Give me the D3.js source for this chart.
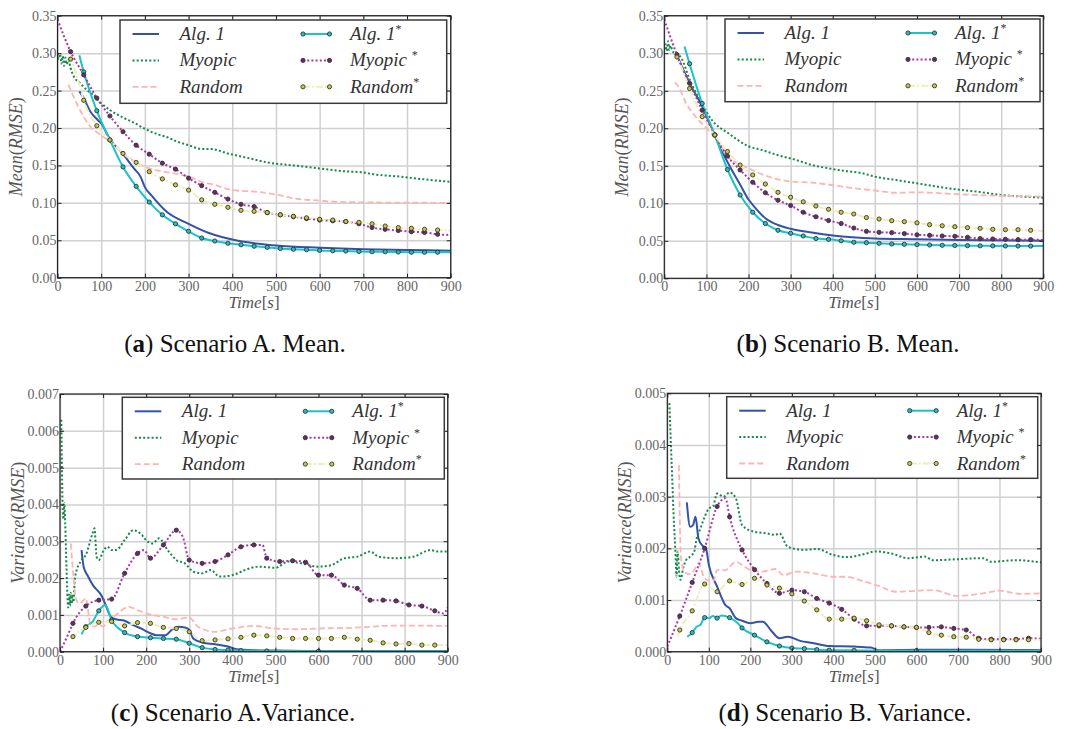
<!DOCTYPE html>
<html>
<head>
<meta charset="utf-8">
<script src="https://cdn.jsdelivr.net/npm/d3@7"></script>
<style>
  body { margin: 0; background: #fff; }
</style>
</head>
<body>
<div id="chart"></div>
<script>
//Time axis ticks (seconds) shared by all panels
const timeTicks = [0, 100, 200, 300, 400, 500, 600, 700, 800, 900];

//Scenario A, mean RMSE  ([time, value])
const meanA_alg1 = [[50,0.249],[60,0.240],[75,0.222],[90,0.212],[100,0.206],[120,0.185],[150,0.165],[175,0.146],[190,0.135],[200,0.121],[215,0.110],[250,0.088],[300,0.072],[350,0.059],[400,0.051],[450,0.046],[500,0.043],[600,0.040],[700,0.038],[800,0.037],[900,0.036]];
const meanA_myopic = [[0,0.300],[3,0.292],[6,0.299],[9,0.286],[12,0.296],[15,0.283],[18,0.294],[21,0.285],[25,0.291],[30,0.280],[40,0.266],[48,0.262],[65,0.252],[80,0.245],[98,0.234],[120,0.224],[150,0.214],[175,0.207],[200,0.199],[227,0.192],[250,0.188],[273,0.182],[300,0.177],[330,0.172],[350,0.172],[390,0.166],[420,0.162],[450,0.158],[480,0.154],[540,0.150],[600,0.146],[660,0.142],[695,0.141],[725,0.138],[785,0.135],[830,0.132],[900,0.128]];
const meanA_random = [[25,0.258],[48,0.228],[75,0.202],[98,0.191],[120,0.182],[150,0.166],[180,0.154],[210,0.146],[240,0.142],[270,0.139],[300,0.135],[330,0.128],[360,0.124],[400,0.117],[450,0.115],[480,0.113],[510,0.110],[540,0.106],[600,0.103],[630,0.1015],[710,0.1006],[900,0.100]];
const meanA_alg1s = [[50,0.297],[60,0.275],[90,0.223],[120,0.184],[150,0.148],[180,0.122],[210,0.101],[240,0.084],[270,0.072],[300,0.062],[330,0.053],[360,0.049],[390,0.046],[420,0.044],[450,0.042],[480,0.0405],[510,0.039],[540,0.038],[570,0.0374],[600,0.0365],[630,0.036],[660,0.0356],[690,0.035],[720,0.0347],[750,0.0347],[780,0.0343],[810,0.034],[840,0.034],[870,0.034],[900,0.034]];
const meanA_myopics = [[0,0.345],[30,0.302],[60,0.271],[90,0.240],[120,0.216],[150,0.195],[180,0.177],[210,0.165],[240,0.153],[270,0.145],[300,0.133],[330,0.123],[360,0.114],[390,0.105],[420,0.098],[450,0.095],[480,0.087],[510,0.084],[540,0.0815],[570,0.079],[600,0.077],[630,0.076],[660,0.075],[690,0.072],[720,0.067],[750,0.0646],[780,0.063],[810,0.0615],[840,0.0605],[870,0.058],[900,0.057]];
const meanA_randoms = [[25,0.296],[30,0.292],[48,0.262],[60,0.237],[90,0.203],[120,0.184],[150,0.166],[180,0.154],[210,0.1416],[240,0.132],[270,0.124],[300,0.117],[330,0.104],[360,0.098],[390,0.094],[420,0.090],[450,0.0886],[480,0.087],[510,0.084],[540,0.082],[570,0.080],[600,0.078],[630,0.077],[660,0.075],[690,0.074],[720,0.072],[750,0.069],[780,0.067],[810,0.066],[840,0.0646],[870,0.0637],[900,0.063]];

//Scenario B, mean RMSE
const meanB_alg1 = [[30,0.297],[60,0.260],[90,0.229],[120,0.190],[150,0.155],[180,0.125],[200,0.105],[210,0.098],[240,0.080],[270,0.071],[300,0.066],[350,0.061],[400,0.057],[500,0.053],[600,0.052],[700,0.051],[900,0.050]];
const meanB_myopic = [[0,0.305],[3,0.312],[6,0.303],[9,0.316],[12,0.304],[15,0.310],[20,0.302],[30,0.300],[42,0.292],[60,0.265],[90,0.232],[100,0.222],[113,0.211],[153,0.193],[200,0.176],[232,0.171],[270,0.164],[311,0.158],[350,0.151],[390,0.1466],[430,0.143],[470,0.140],[500,0.1355],[550,0.131],[600,0.1266],[650,0.122],[700,0.118],[750,0.115],[800,0.111],[850,0.109],[900,0.1075]];
const meanB_random = [[25,0.261],[35,0.254],[50,0.235],[75,0.215],[100,0.200],[125,0.184],[150,0.162],[175,0.153],[200,0.1466],[250,0.135],[300,0.129],[350,0.1275],[400,0.124],[450,0.120],[500,0.117],[550,0.114],[600,0.1146],[700,0.112],[800,0.110],[900,0.109]];
const meanB_alg1s = [[48,0.309],[60,0.286],[90,0.233],[120,0.191],[150,0.145],[180,0.111],[210,0.088],[240,0.073],[270,0.064],[300,0.060],[330,0.0564],[360,0.053],[390,0.052],[420,0.050],[450,0.048],[480,0.0475],[510,0.0466],[540,0.0457],[570,0.0453],[600,0.0449],[630,0.0444],[660,0.044],[690,0.0437],[720,0.0435],[750,0.0433],[780,0.0432],[810,0.0431],[840,0.043],[870,0.043],[900,0.043]];
const meanB_myopics = [[0,0.345],[30,0.298],[60,0.260],[90,0.224],[120,0.191],[150,0.163],[180,0.1444],[210,0.128],[240,0.114],[270,0.104],[300,0.097],[330,0.088],[360,0.082],[390,0.077],[420,0.073],[450,0.067],[480,0.0626],[510,0.0613],[540,0.0608],[570,0.0595],[600,0.058],[630,0.0573],[660,0.0564],[690,0.056],[720,0.0546],[750,0.053],[780,0.0524],[810,0.052],[840,0.0515],[870,0.0515],[900,0.051]];
const meanB_randoms = [[25,0.300],[30,0.295],[60,0.253],[90,0.2154],[120,0.191],[150,0.169],[180,0.151],[210,0.1377],[240,0.1257],[270,0.1146],[300,0.108],[330,0.102],[360,0.0964],[390,0.092],[420,0.088],[450,0.0857],[480,0.081],[510,0.079],[540,0.0768],[570,0.0755],[600,0.074],[630,0.0715],[660,0.070],[690,0.0688],[720,0.0675],[750,0.0666],[780,0.0653],[810,0.0648],[840,0.0648],[870,0.064],[900,0.063]];

//Scenario A, variance of RMSE (units of 1e-3)
const varA_alg1 = [[50,2.76],[55,2.30],[65,2.05],[78,1.78],[88,1.65],[95,1.55],[105,1.30],[118,0.95],[130,0.88],[150,0.84],[170,0.72],[190,0.62],[210,0.50],[225,0.45],[245,0.45],[260,0.60],[275,0.68],[290,0.66],[300,0.60],[310,0.35],[330,0.25],[360,0.20],[390,0.14],[410,0.07],[450,0.04],[500,0.03],[600,0.02],[900,0.02]];
const varA_myopic = [[3,6.30],[6,4.00],[8,3.60],[10,4.03],[12,3.50],[15,2.30],[17,1.60],[19,1.20],[21,1.55],[23,1.25],[25,1.60],[27,1.30],[29,1.55],[31,1.35],[35,2.04],[50,2.49],[60,2.63],[75,3.20],[80,3.35],[85,2.58],[90,2.49],[100,2.72],[110,2.85],[120,2.76],[130,2.76],[150,3.03],[170,3.30],[190,3.17],[200,3.03],[215,2.94],[230,3.08],[250,2.76],[270,2.49],[290,2.40],[310,2.17],[330,2.13],[350,2.22],[370,2.04],[400,2.08],[430,2.22],[460,2.31],[500,2.28],[530,2.45],[560,2.40],[600,2.31],[630,2.35],[660,2.54],[690,2.58],[720,2.72],[740,2.58],[780,2.54],[820,2.58],[860,2.76],[880,2.72],[900,2.72]];
const varA_random = [[25,2.94],[30,2.22],[38,1.40],[45,1.31],[55,1.40],[60,1.45],[70,0.77],[80,0.68],[90,0.75],[100,0.68],[110,0.82],[130,1.00],[160,1.22],[180,1.13],[200,1.04],[240,0.95],[270,0.88],[300,0.93],[320,0.68],[360,0.54],[400,0.63],[450,0.70],[500,0.63],[550,0.61],[600,0.63],[700,0.66],[750,0.70],[800,0.71],[900,0.70]];
const varA_alg1s = [[50,0.47],[60,0.68],[75,0.80],[90,1.11],[105,1.27],[120,0.86],[150,0.52],[180,0.41],[210,0.38],[240,0.36],[270,0.34],[300,0.23],[330,0.11],[360,0.06],[390,0.045],[420,0.03],[480,0.02],[600,0.015],[900,0.01]];
const varA_myopics = [[0,0.00],[20,0.50],[30,0.77],[60,1.24],[90,1.40],[120,1.43],[150,2.13],[180,2.67],[195,2.76],[210,2.54],[240,2.90],[270,3.30],[285,3.12],[300,2.49],[330,2.40],[360,2.45],[390,2.63],[420,2.85],[450,2.90],[470,2.90],[480,2.54],[510,2.45],[540,2.47],[570,2.43],[600,2.08],[630,2.08],[660,1.81],[690,1.72],[720,1.40],[750,1.40],[780,1.38],[810,1.27],[840,1.24],[870,1.11],[890,1.04],[900,1.20]];
const varA_randoms = [[25,0.35],[30,0.41],[60,0.66],[90,0.80],[120,0.82],[150,0.70],[180,0.79],[210,0.77],[240,0.66],[270,0.63],[300,0.54],[330,0.30],[360,0.32],[390,0.35],[420,0.39],[450,0.45],[480,0.43],[510,0.39],[540,0.36],[570,0.36],[600,0.36],[630,0.36],[660,0.39],[690,0.34],[720,0.31],[750,0.24],[780,0.21],[810,0.22],[840,0.18],[870,0.18],[900,0.18]];

//Scenario B, variance of RMSE (units of 1e-3)
const varB_alg1 = [[47,2.89],[55,2.42],[62,2.45],[68,2.61],[75,2.19],[85,2.05],[93,2.00],[100,1.68],[120,1.26],[140,0.90],[150,0.84],[165,0.65],[180,0.60],[200,0.55],[220,0.58],[230,0.58],[250,0.41],[270,0.26],[290,0.29],[320,0.21],[350,0.17],[390,0.11],[450,0.10],[490,0.08],[510,0.03],[600,0.04],[900,0.03]];
const varB_myopic = [[5,4.81],[8,4.16],[12,3.32],[15,2.68],[20,1.84],[22,1.45],[25,1.94],[28,1.58],[32,1.39],[38,1.61],[45,1.77],[55,1.84],[65,1.94],[70,2.16],[80,2.39],[90,2.61],[100,2.77],[110,2.81],[120,3.06],[135,3.00],[150,3.08],[165,2.97],[180,2.45],[210,2.32],[240,2.29],[260,2.26],[270,2.29],[290,2.03],[330,1.97],[360,1.99],[400,1.87],[430,1.83],[480,1.90],[500,1.94],[540,1.90],[580,1.81],[620,1.84],[640,1.77],[700,1.79],[760,1.81],[780,1.74],[840,1.77],[900,1.73]];
const varB_random = [[28,3.61],[32,1.97],[36,1.65],[45,1.52],[55,1.50],[70,1.65],[75,1.71],[90,1.42],[110,1.35],[120,1.58],[140,1.58],[165,1.74],[185,1.65],[200,1.58],[230,1.55],[260,1.60],[280,1.48],[310,1.55],[350,1.52],[400,1.45],[430,1.45],[470,1.37],[510,1.27],[550,1.16],[600,1.18],[640,1.19],[700,1.08],[760,1.13],[800,1.18],[850,1.12],[900,1.13]];
const varB_alg1s = [[48,0.29],[60,0.37],[70,0.48],[80,0.52],[90,0.66],[100,0.65],[110,0.69],[120,0.65],[130,0.70],[150,0.66],[170,0.55],[180,0.46],[210,0.32],[240,0.19],[270,0.11],[300,0.07],[330,0.06],[360,0.04],[390,0.03],[450,0.025],[600,0.02],[900,0.02]];
const varB_myopics = [[0,0.10],[30,0.69],[60,1.34],[90,2.00],[120,2.81],[140,2.97],[150,2.61],[180,1.97],[210,1.59],[240,1.32],[270,1.13],[300,1.19],[330,1.16],[360,1.03],[390,0.94],[420,0.82],[450,0.63],[480,0.50],[510,0.50],[540,0.50],[570,0.48],[600,0.47],[630,0.47],[660,0.48],[690,0.45],[720,0.42],[750,0.26],[780,0.24],[810,0.24],[840,0.24],[870,0.26],[900,0.25]];
const varB_randoms = [[25,0.30],[30,0.42],[60,0.79],[85,1.28],[90,1.31],[120,1.16],[150,1.37],[180,1.30],[210,1.42],[240,1.29],[270,1.23],[300,1.12],[330,0.98],[360,0.81],[390,0.63],[420,0.63],[450,0.65],[480,0.60],[510,0.52],[540,0.50],[570,0.48],[600,0.47],[630,0.37],[660,0.32],[690,0.29],[720,0.28],[750,0.24],[780,0.23],[810,0.23],[840,0.23],[870,0.23],[900,0.23]];

//Legend labels: [main text, superscript]
const seriesNames = [['Alg. 1', ''], ['Myopic', ''], ['Random', ''], ['Alg. 1', '*'], ['Myopic ', '*'], ['Random', '*']];

//Styles, one per series, same order as the names
const styles = [
  {color: '#3453a8', dash: null, width: 2, marker: false},
  {color: '#16884a', dash: '2,2.2', width: 2, marker: false},
  {color: '#ffb4b4', dash: '6,3', width: 1.8, marker: false},
  {color: '#1cc2c6', dash: null, width: 2, marker: true, mfill: '#1cc2c6'},
  {color: '#a53aa5', dash: '2,2.2', width: 2, marker: true, mfill: '#6a2a6a'},
  {color: '#eeeebb', dash: '7,2,2,2', width: 2, marker: true, mfill: '#c8c840'}
];

const SERIF = "'Liberation Serif', 'Times New Roman', serif";

const panels = [
  {box: {l: 57.5, r: 450.7, t: 15.7, b: 277.7}, yMax: 0.35, yTicks: d3.range(0, 0.351, 0.05), fmt: d => d.toFixed(2),
   ylabel: ['Mean', 'RMSE'], series: [meanA_alg1, meanA_myopic, meanA_random, meanA_alg1s, meanA_myopics, meanA_randoms],
   legend: {l: 120, t: 20, r: 446.7, b: 103.3}, caption: ['a', 'Scenario A. Mean.'], capPos: [235, 352]},
  {box: {l: 664.3, r: 1043.3, t: 15.7, b: 278.3}, yMax: 0.35, yTicks: d3.range(0, 0.351, 0.05), fmt: d => d.toFixed(2),
   ylabel: ['Mean', 'RMSE'], series: [meanB_alg1, meanB_myopic, meanB_random, meanB_alg1s, meanB_myopics, meanB_randoms],
   legend: {l: 725, t: 19, r: 1040, b: 101.7}, caption: ['b', 'Scenario B. Mean.'], capPos: [848, 352]},
  {box: {l: 60, r: 447.7, t: 394, b: 651.7}, yMax: 7, yTicks: d3.range(0, 7.01, 1), fmt: d => (d / 1000).toFixed(3),
   ylabel: ['Variance', 'RMSE'], series: [varA_alg1, varA_myopic, varA_random, varA_alg1s, varA_myopics, varA_randoms],
   legend: {l: 122.3, t: 397.3, r: 444.3, b: 479}, caption: ['c', 'Scenario A.Variance.'], capPos: [233, 721]},
  {box: {l: 667.3, r: 1041, t: 393.3, b: 651.7}, yMax: 5, yTicks: d3.range(0, 5.01, 1), fmt: d => (d / 1000).toFixed(3),
   ylabel: ['Variance', 'RMSE'], series: [varB_alg1, varB_myopic, varB_random, varB_alg1s, varB_myopics, varB_randoms],
   legend: {l: 726.7, t: 396.7, r: 1037.7, b: 478.3}, caption: ['d', 'Scenario B. Variance.'], capPos: [845, 721]}
];

//SVG
const svg = d3.select('#chart').append('svg')
  .attr('width', 1073)
  .attr('height', 729)
  .style('background', '#fff');

panels.forEach((p, pi) => {
  const b = p.box;
  const x = d3.scaleLinear().domain([0, 900]).range([b.l, b.r]);
  const y = d3.scaleLinear().domain([0, p.yMax]).range([b.b, b.t]);
  const g = svg.append('g');
  const clipId = 'clip' + pi;

  g.append('clipPath').attr('id', clipId)
    .append('rect').attr('x', b.l).attr('y', b.t).attr('width', b.r - b.l).attr('height', b.b - b.t);

  //Grid lines
  g.append('g')
    .attr('transform', `translate(0, ${b.b})`)
    .call(d3.axisBottom(x).tickValues(timeTicks).tickSize(-(b.b - b.t)).tickFormat(''))
    .call(s => s.select('.domain').remove())
    .call(s => s.selectAll('line').attr('stroke', '#d0d0d0').attr('stroke-width', 1.5));
  g.append('g')
    .attr('transform', `translate(${b.l}, 0)`)
    .call(d3.axisLeft(y).tickValues(p.yTicks).tickSize(-(b.r - b.l)).tickFormat(''))
    .call(s => s.select('.domain').remove())
    .call(s => s.selectAll('line').attr('stroke', '#d0d0d0').attr('stroke-width', 1.5));

  //Lines
  const line = d3.line()
    .x(d => x(d[0]))
    .y(d => y(d[1]))
    .curve(d3.curveMonotoneX);

  const lines = g.append('g').attr('clip-path', `url(#${clipId})`);
  p.series.forEach((data, i) => {
    const st = styles[i];
    lines.append('path')
      .attr('d', line(data))
      .attr('fill', 'none')
      .attr('stroke', st.color)
      .attr('stroke-width', st.width)
      .attr('stroke-dasharray', st.dash);
  });
  p.series.forEach((data, i) => {
    const st = styles[i];
    if (!st.marker) return;
    lines.selectAll(null)
      .data(data.filter(d => d[0] >= 30 && d[0] < 900 && d[0] % 30 === 0))
      .enter()
      .append('circle')
      .attr('cx', d => x(d[0]))
      .attr('cy', d => y(d[1]))
      .attr('r', 2.1)
      .attr('fill', st.mfill)
      .attr('stroke', '#333')
      .attr('stroke-width', 0.9);
  });

  //Frame and small inward ticks
  g.append('rect')
    .attr('x', b.l).attr('y', b.t)
    .attr('width', b.r - b.l).attr('height', b.b - b.t)
    .attr('fill', 'none').attr('stroke', '#222').attr('stroke-width', 1.2);
  [[d3.axisBottom(x), 0, b.b, timeTicks], [d3.axisTop(x), 0, b.t, timeTicks],
   [d3.axisLeft(y), b.l, 0, p.yTicks], [d3.axisRight(y), b.r, 0, p.yTicks]].forEach(([ax, tx, ty, tv]) => {
    g.append('g')
      .attr('transform', `translate(${tx}, ${ty})`)
      .call(ax.tickValues(tv).tickSize(-4).tickFormat(''))
      .call(s => s.select('.domain').remove())
      .call(s => s.selectAll('line').attr('stroke', '#222').attr('stroke-width', 1));
  });

  //Tick labels
  g.append('g')
    .attr('transform', `translate(0, ${b.b})`)
    .call(d3.axisBottom(x).tickValues(timeTicks).tickSize(0).tickPadding(3))
    .call(s => s.select('.domain').remove())
    .call(s => s.selectAll('text').style('font-family', SERIF).style('font-size', '14px').attr('fill', '#666'));
  g.append('g')
    .attr('transform', `translate(${b.l}, 0)`)
    .call(d3.axisLeft(y).tickValues(p.yTicks).tickFormat(p.fmt).tickSize(0).tickPadding(1))
    .call(s => s.select('.domain').remove())
    .call(s => s.selectAll('text').style('font-family', SERIF).style('font-size', '14px').attr('fill', '#666'));

  //Axis labels
  const xl = g.append('text')
    .style('font-family', SERIF).style('font-size', '17px').attr('fill', '#555')
    .attr('x', (b.l + b.r) / 2).attr('y', b.b + 30).attr('text-anchor', 'middle');
  xl.append('tspan').style('font-style', 'italic').text('Time');
  xl.append('tspan').text('[');
  xl.append('tspan').style('font-style', 'italic').text('s');
  xl.append('tspan').text(']');

  const yl = g.append('text')
    .style('font-family', SERIF).style('font-size', '18px').attr('fill', '#555')
    .attr('transform', `translate(${b.l - 36}, ${(b.t + b.b) / 2}) rotate(-90)`)
    .attr('text-anchor', 'middle');
  yl.append('tspan').style('font-style', 'italic').text(p.ylabel[0]);
  yl.append('tspan').text('(');
  yl.append('tspan').style('font-style', 'italic').text(p.ylabel[1]);
  yl.append('tspan').text(')');

  //Legend
  const L = p.legend;
  const lg = g.append('g');
  lg.append('rect')
    .attr('x', L.l).attr('y', L.t)
    .attr('width', L.r - L.l).attr('height', L.b - L.t)
    .attr('fill', '#fff').attr('stroke', '#3a3a3a').attr('stroke-width', 1.5);
  seriesNames.forEach((name, i) => {
    const st = styles[i];
    const col = Math.floor(i / 3);
    const row = i % 3;
    const x0 = L.l + 12.5 + col * 170.5;
    const yy = L.t + 14 + row * 26.4;
    lg.append('line')
      .attr('x1', x0).attr('x2', x0 + 26.5)
      .attr('y1', yy).attr('y2', yy)
      .attr('stroke', st.color).attr('stroke-width', st.width)
      .attr('stroke-dasharray', st.dash);
    if (st.marker) {
      [x0, x0 + 26.5].forEach(mx => {
        lg.append('circle').attr('cx', mx).attr('cy', yy).attr('r', 2.1)
          .attr('fill', st.mfill).attr('stroke', '#333').attr('stroke-width', 0.9);
      });
    }
    const t = lg.append('text')
      .style('font-family', SERIF).style('font-size', '19px').style('font-style', 'italic')
      .attr('fill', '#333')
      .attr('x', x0 + 47).attr('y', yy + 6);
    t.append('tspan').text(name[0]);
    if (name[1]) {
      t.append('tspan').style('font-size', '12px').style('font-style', 'normal').attr('dy', -7).text(name[1]);
    }
  });

  //Caption
  const c = svg.append('text')
    .style('font-family', SERIF).style('font-size', '25px').attr('fill', '#111')
    .attr('x', p.capPos[0]).attr('y', p.capPos[1]).attr('text-anchor', 'middle');
  c.append('tspan').text('(');
  c.append('tspan').style('font-weight', 'bold').text(p.caption[0]);
  c.append('tspan').text(') ' + p.caption[1]);
});
</script>
</body>
</html>
